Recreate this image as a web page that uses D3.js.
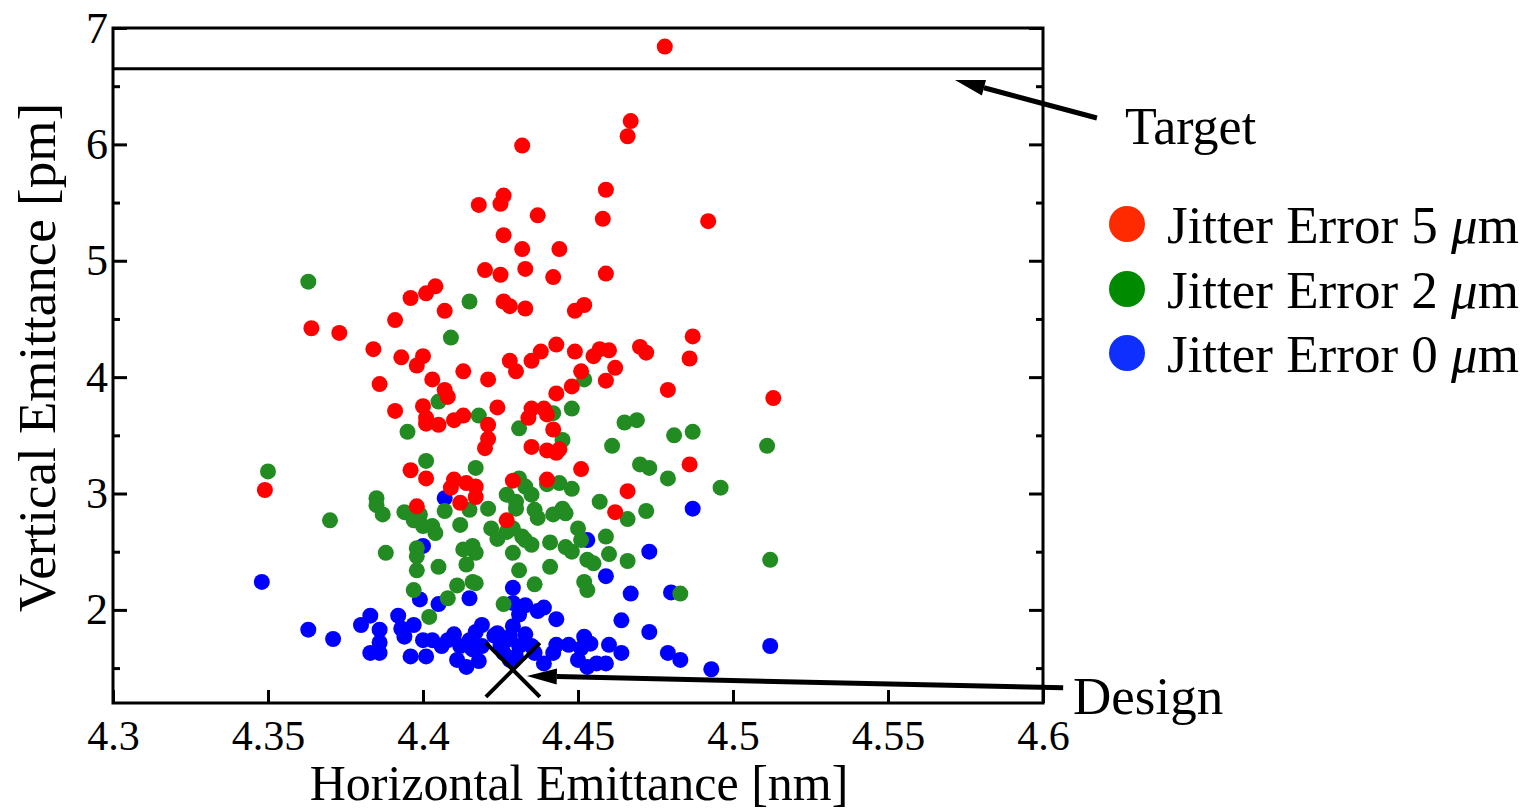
<!DOCTYPE html>
<html>
<head>
<meta charset="utf-8">
<script src="https://cdn.jsdelivr.net/npm/d3@7"></script>
<style>
  body { margin: 0; background: #fff; }
  svg { display: block; }
  text { font-family: "Liberation Serif", "Times New Roman", serif; fill: #000; }
</style>
</head>
<body>
<svg id="chart" width="1539" height="810"></svg>
<script>
// ---- axis definitions ----
const xDomain = [4.3, 4.6];
const yDomain = [1.2, 7];
const xTicks = [4.3, 4.35, 4.4, 4.45, 4.5, 4.55, 4.6];
const xTickLabels = ["4.3", "4.35", "4.4", "4.45", "4.5", "4.55", "4.6"];
const yTicks = [2, 3, 4, 5, 6, 7];
const yTickLabels = ["2", "3", "4", "5", "6", "7"];
const yMinorTicks = [1.5, 2.5, 3.5, 4.5, 5.5, 6.5];
const xTitle = "Horizontal Emittance [nm]";
const yTitle = "Vertical Emittance [pm]";

// ---- series: [horizontal emittance nm, vertical emittance pm] ----
const jitter5 = [
  [4.478,6.84],[4.467,6.20],[4.466,6.07],[4.432,5.99],[4.426,5.56],[4.425,5.49],[4.418,5.48],
  [4.437,5.39],[4.459,5.61],[4.458,5.36],[4.492,5.34],[4.426,5.22],[4.432,5.10],[4.444,5.10],
  [4.420,4.92],[4.425,4.88],[4.433,4.93],[4.442,4.86],[4.459,4.89],[4.404,4.78],[4.401,4.72],
  [4.396,4.68],[4.426,4.65],[4.428,4.61],[4.433,4.59],[4.407,4.57],[4.449,4.57],[4.452,4.62],
  [4.391,4.49],[4.364,4.42],[4.373,4.38],[4.384,4.24],[4.393,4.17],[4.400,4.18],[4.398,4.10],
  [4.413,4.05],[4.421,3.98],[4.403,3.98],[4.386,3.94],[4.407,3.89],[4.408,3.83],[4.428,4.14],
  [4.430,4.05],[4.435,4.14],[4.438,4.22],[4.443,4.28],[4.449,4.22],[4.455,4.18],[4.457,4.24],
  [4.460,4.23],[4.470,4.26],[4.472,4.21],[4.487,4.35],[4.486,4.16],[4.451,4.05],[4.462,4.08],
  [4.459,3.97],[4.448,3.92],[4.479,3.89],[4.513,3.82],[4.443,3.86],[4.400,3.75],[4.391,3.71],
  [4.401,3.65],[4.401,3.60],[4.405,3.59],[4.410,3.63],[4.413,3.67],[4.424,3.74],[4.421,3.59],
  [4.421,3.47],[4.420,3.39],[4.435,3.73],[4.434,3.65],[4.439,3.73],[4.440,3.68],[4.442,3.55],
  [4.435,3.40],[4.440,3.37],[4.444,3.38],[4.443,3.35],[4.486,3.25],[4.466,3.02],[4.451,3.21],
  [4.349,3.03],[4.396,3.20],[4.401,3.13],[4.410,3.12],[4.409,3.05],[4.414,3.09],[4.417,3.06],
  [4.417,2.97],[4.429,3.11],[4.440,3.12],[4.412,2.92],[4.398,2.89],[4.462,2.84],[4.427,2.77]
];
const jitter2 = [
  [4.363,4.82],[4.415,4.65],[4.409,4.34],[4.405,3.79],[4.418,3.67],[4.431,3.56],[4.395,3.53],
  [4.452,3.98],[4.448,3.73],[4.442,3.69],[4.445,3.46],[4.465,3.61],[4.469,3.63],[4.481,3.50],
  [4.487,3.53],[4.461,3.41],[4.511,3.41],[4.350,3.19],[4.401,3.28],[4.417,3.22],[4.470,3.25],
  [4.473,3.22],[4.479,3.13],[4.496,3.05],[4.431,3.13],[4.433,3.06],[4.435,2.99],[4.427,2.99],
  [4.430,2.93],[4.430,2.87],[4.385,2.96],[4.385,2.90],[4.387,2.82],[4.394,2.84],[4.399,2.82],
  [4.407,2.85],[4.415,2.86],[4.421,2.87],[4.370,2.77],[4.436,2.86],[4.440,3.08],[4.444,3.09],
  [4.448,3.04],[4.457,2.93],[4.472,2.85],[4.466,2.78],[4.437,2.79],[4.442,2.82],[4.445,2.87],
  [4.446,2.83],[4.397,2.77],[4.400,2.72],[4.403,2.72],[4.404,2.66],[4.412,2.73],[4.422,2.70],
  [4.424,2.61],[4.427,2.67],[4.429,2.70],[4.432,2.63],[4.435,2.56],[4.429,2.49],[4.433,2.60],
  [4.441,2.58],[4.446,2.54],[4.448,2.50],[4.450,2.70],[4.451,2.60],[4.459,2.63],[4.460,2.48],
  [4.466,2.42],[4.453,2.43],[4.455,2.40],[4.398,2.53],[4.398,2.46],[4.398,2.34],[4.405,2.37],
  [4.413,2.52],[4.416,2.55],[4.417,2.49],[4.414,2.39],[4.431,2.34],[4.441,2.37],[4.452,2.24],
  [4.453,2.17],[4.411,2.21],[4.416,2.24],[4.417,2.23],[4.436,2.22],[4.397,2.17],[4.408,2.10],
  [4.426,2.05],[4.402,1.94],[4.388,2.49],[4.512,2.43],[4.483,2.14]
];
const jitter0 = [
  [4.348,2.24],[4.407,2.96],[4.487,2.87],[4.453,2.60],[4.473,2.50],[4.400,2.55],[4.459,2.29],
  [4.467,2.14],[4.480,2.15],[4.429,2.19],[4.399,2.09],[4.405,2.05],[4.415,2.10],[4.429,2.06],
  [4.433,2.04],[4.437,1.99],[4.439,2.02],[4.431,1.96],[4.443,1.92],[4.464,1.91],[4.473,1.81],
  [4.493,1.49],[4.512,1.69],[4.479,1.63],[4.483,1.57],[4.363,1.83],[4.371,1.75],[4.380,1.87],
  [4.383,1.95],[4.386,1.83],[4.386,1.72],[4.383,1.63],[4.386,1.63],[4.392,1.95],[4.397,1.87],
  [4.393,1.84],[4.394,1.77],[4.396,1.60],[4.400,1.74],[4.403,1.74],[4.406,1.69],[4.408,1.74],
  [4.410,1.79],[4.401,1.60],[4.411,1.57],[4.414,1.51],[4.418,1.56],[4.412,1.69],[4.415,1.74],
  [4.417,1.81],[4.419,1.87],[4.416,1.66],[4.429,1.86],[4.428,1.77],[4.425,1.70],[4.426,1.63],
  [4.433,1.79],[4.435,1.69],[4.436,1.63],[4.423,1.78],[4.428,1.57],[4.419,1.69],[4.424,1.80],
  [4.430,1.60],[4.439,1.54],[4.443,1.70],[4.447,1.70],[4.451,1.67],[4.452,1.77],[4.454,1.71],
  [4.450,1.57],[4.453,1.51],[4.456,1.54],[4.459,1.54],[4.460,1.70],[4.464,1.63],[4.442,1.63],
  [4.431,1.69],[4.427,1.74]
];

const seriesNames = ["Jitter Error 5", "Jitter Error 2", "Jitter Error 0"];
const seriesUnit = "m";
const seriesColors = ["#ff0000", "#228b22", "#0000ff"];
const legendColors = ["#ff2a00", "#008a00", "#0f2fff"];

// ---- annotations ----
const targetLevel = 6.65;
const designPoint = [4.429, 1.485];
const targetArrow = { from: [4.6174, 6.227], to: [4.5716, 6.553], label: "Target" };
const designArrow = { from: [4.6065, 1.330], to: [4.4335, 1.433], label: "Design" };

// ---- layout ----
const plot = { left: 113, right: 1043, top: 28, bottom: 703 };
const svg = d3.select("#chart");
const x = d3.scaleLinear().domain(xDomain).range([plot.left, plot.right]);
const y = d3.scaleLinear().domain(yDomain).range([plot.bottom, plot.top]);

// points: 0 um first, then 2 um, 5 um on top
const drawOrder = [[jitter0, 2], [jitter2, 1], [jitter5, 0]];
drawOrder.forEach(([data, i]) => {
  svg.append("g").selectAll("circle").data(data).join("circle")
    .attr("cx", d => x(d[0])).attr("cy", d => y(d[1]))
    .attr("r", 8).attr("fill", seriesColors[i]);
});

// target line across the whole plot
svg.append("line")
  .attr("x1", x(xDomain[0])).attr("x2", x(xDomain[1]))
  .attr("y1", y(targetLevel)).attr("y2", y(targetLevel))
  .attr("stroke", "#000").attr("stroke-width", 3);

// design marker
const dx = x(designPoint[0]), dy = y(designPoint[1]), arm = 27;
const xMark = svg.append("g").attr("stroke", "#000").attr("stroke-width", 4);
xMark.append("line").attr("x1", dx - arm).attr("y1", dy - arm).attr("x2", dx + arm).attr("y2", dy + arm);
xMark.append("line").attr("x1", dx - arm).attr("y1", dy + arm).attr("x2", dx + arm).attr("y2", dy - arm);

// frame
svg.append("rect")
  .attr("x", plot.left).attr("y", plot.top)
  .attr("width", plot.right - plot.left).attr("height", plot.bottom - plot.top)
  .attr("fill", "none").attr("stroke", "#000").attr("stroke-width", 3);

// x axis: inward ticks and labels
const xAxis = d3.axisBottom(x).tickValues(xTicks)
  .tickFormat((d, i) => xTickLabels[i]).tickSizeInner(-13).tickSizeOuter(0).tickPadding(17);
const gx = svg.append("g").attr("transform", `translate(0,${plot.bottom})`).call(xAxis);
gx.select(".domain").remove();
gx.selectAll(".tick line").attr("stroke", "#000").attr("stroke-width", 3);
gx.selectAll(".tick text").attr("font-size", 42).attr("font-family", "Liberation Serif").attr("fill", "#000");

// y axis left: major + minor inward ticks
const yAxis = d3.axisLeft(y).tickValues(yTicks)
  .tickFormat((d, i) => yTickLabels[i]).tickSizeInner(-14).tickSizeOuter(0).tickPadding(5);
const gy = svg.append("g").attr("transform", `translate(${plot.left},0)`).call(yAxis);
gy.select(".domain").remove();
gy.selectAll(".tick line").attr("stroke", "#000").attr("stroke-width", 3);
gy.selectAll(".tick text").attr("font-size", 44).attr("font-family", "Liberation Serif").attr("fill", "#000");

const gyMinor = svg.append("g").attr("transform", `translate(${plot.left},0)`)
  .call(d3.axisLeft(y).tickValues(yMinorTicks).tickSizeInner(-7).tickSizeOuter(0).tickFormat(""));
gyMinor.select(".domain").remove();
gyMinor.selectAll(".tick line").attr("stroke", "#000").attr("stroke-width", 3);

// y axis right: mirrored ticks
const gyR = svg.append("g").attr("transform", `translate(${plot.right},0)`)
  .call(d3.axisRight(y).tickValues(yTicks).tickSizeInner(-14).tickSizeOuter(0).tickFormat(""));
gyR.select(".domain").remove();
gyR.selectAll(".tick line").attr("stroke", "#000").attr("stroke-width", 3);
const gyRMinor = svg.append("g").attr("transform", `translate(${plot.right},0)`)
  .call(d3.axisRight(y).tickValues(yMinorTicks).tickSizeInner(-7).tickSizeOuter(0).tickFormat(""));
gyRMinor.select(".domain").remove();
gyRMinor.selectAll(".tick line").attr("stroke", "#000").attr("stroke-width", 3);

// axis titles
svg.append("text").attr("x", (plot.left + plot.right) / 2 + 1).attr("y", 800)
  .attr("text-anchor", "middle").attr("font-size", 50).text(xTitle);
svg.append("text").attr("transform", `translate(55,${(plot.top + plot.bottom) / 2 - 8}) rotate(-90)`)
  .attr("text-anchor", "middle").attr("font-size", 53).text(yTitle);

// arrows with filled heads
function arrow(a, headLen, headHalf, width) {
  const x1 = x(a.from[0]), y1 = y(a.from[1]), x2 = x(a.to[0]), y2 = y(a.to[1]);
  const ang = Math.atan2(y2 - y1, x2 - x1);
  const bx = x2 - headLen * Math.cos(ang), by = y2 - headLen * Math.sin(ang);
  svg.append("line").attr("x1", x1).attr("y1", y1).attr("x2", bx).attr("y2", by)
    .attr("stroke", "#000").attr("stroke-width", width);
  const px = -Math.sin(ang) * headHalf, py = Math.cos(ang) * headHalf;
  svg.append("path")
    .attr("d", `M${x2},${y2}L${bx + px},${by + py}L${bx - px},${by - py}Z`)
    .attr("fill", "#000");
}
arrow(targetArrow, 30, 8, 5);
arrow(designArrow, 30, 8, 5);

svg.append("text").attr("x", 1125).attr("y", 144).attr("font-size", 52).text(targetArrow.label);
svg.append("text").attr("x", 1073).attr("y", 714).attr("font-size", 53).text(designArrow.label);

// legend
const legend = svg.append("g");
const legendRows = [224, 289, 353];
seriesNames.forEach((name, i) => {
  legend.append("circle").attr("cx", 1127).attr("cy", legendRows[i]).attr("r", 18).attr("fill", legendColors[i]);
  const t = legend.append("text").attr("x", 1167).attr("y", legendRows[i] + 19).attr("font-size", 53);
  t.append("tspan").text(name + " ");
  t.append("tspan").attr("font-style", "italic").text("\u03bc");
  t.append("tspan").text(seriesUnit);
});
</script>
</body>
</html>
